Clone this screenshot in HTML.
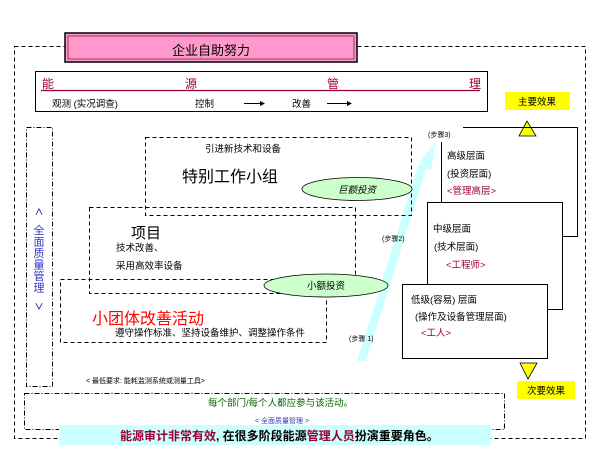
<!DOCTYPE html>
<html><head><meta charset="utf-8"><style>
html,body{margin:0;padding:0;background:#fff;}
svg{display:block;font-family:"Liberation Sans","Noto Sans CJK SC",sans-serif;}
</style></head><body>
<svg width="600" height="450" viewBox="0 0 600 450" xmlns="http://www.w3.org/2000/svg">
<rect x="14.5" y="46.5" width="571" height="392" fill="none" stroke="#000" stroke-dasharray="4,3"/>
<rect x="65" y="33" width="292" height="29" fill="#ff99cc" stroke="#000" stroke-width="1.5"/>
<rect x="68" y="36" width="286" height="23" fill="none" stroke="#993366" stroke-width="1"/>
<text x="211" y="55" font-size="13" text-anchor="middle">企业自助努力</text>
<rect x="35.5" y="71.5" width="452" height="40" fill="#fff" stroke="#000"/>
<line x1="41" y1="90.5" x2="480" y2="90.5" stroke="#990033" stroke-width="1.2"/>
<g fill="#990033" font-size="12"><text x="42" y="88">能</text><text x="185" y="88">源</text><text x="327" y="88">管</text><text x="469" y="88">理</text></g>
<g font-size="9.5"><text x="52" y="107">观测 (实况调查)</text><text x="195" y="107">控制</text><text x="292" y="107">改善</text></g>
<line x1="244" y1="103.5" x2="260" y2="103.5" stroke="#000"/><polygon points="260,101 265,103.5 260,106"/>
<line x1="327" y1="103.5" x2="347" y2="103.5" stroke="#000"/><polygon points="347,101 352,103.5 347,106"/>
<rect x="505" y="92" width="65" height="18" fill="#ffff00"/>
<text x="537" y="105" font-size="9.5" text-anchor="middle">主要效果</text>
<polygon points="527,121 519,136 536,136" fill="#ffff00" stroke="#000" stroke-width="0.8"/>
<rect x="517" y="381" width="58" height="18" fill="#ffff00"/>
<text x="546" y="394" font-size="9.5" text-anchor="middle">次要效果</text>
<polygon points="520,363 537,363 528,379" fill="#ffff00" stroke="#000" stroke-width="0.8"/>
<rect x="26.5" y="127.5" width="26" height="259" fill="none" stroke="#000" stroke-dasharray="5,2,1,2"/>
<g fill="#3333cc" font-size="11" text-anchor="middle">
<text x="39" y="215" font-size="9" font-weight="bold">∧</text>
<text x="39" y="234">全</text><text x="39" y="245.5">面</text><text x="39" y="257">质</text><text x="39" y="268.5">量</text><text x="39" y="280">管</text><text x="39" y="291.5">理</text>
<text x="39" y="310" font-size="9" font-weight="bold">∨</text>
</g>
<rect x="24.5" y="393.5" width="480" height="36" fill="none" stroke="#000" stroke-dasharray="5,2,1,2"/>
<text x="208" y="406" font-size="9.5" fill="#006600">每个部门/每个人都应参与该活动。</text>
<text x="255" y="423" font-size="7" fill="#3333cc">&lt; 全面质量管理 &gt;</text>
<rect x="59" y="425" width="432" height="20" fill="#ccffff"/>
<text x="120" y="440" font-size="12" font-weight="bold"><tspan fill="#990033">能源审计非常有效</tspan>, 在很多阶段能源<tspan fill="#990033">管理人员</tspan>扮演重要角色。</text>
<polyline points="463,127.5 577.5,127.5 577.5,236.5 563,236.5" fill="none" stroke="#000"/>
<line x1="441.5" y1="142" x2="441.5" y2="202" stroke="#000"/>
<rect x="427.5" y="202.5" width="135" height="107" fill="#fff" stroke="#000"/>
<rect x="402.5" y="284.5" width="145" height="74" fill="#fff" stroke="#000"/>
<g font-size="9.5">
<text x="447" y="159">高级层面</text><text x="447" y="177">(投资层面)</text>
<text x="447" y="194" fill="#990033">&lt;管理高层&gt;</text>
<text x="433" y="232">中级层面</text><text x="434" y="250">(技术层面)</text>
<text x="446" y="268" fill="#990033">&lt;工程师&gt;</text>
<text x="411" y="303">低级(容易) 层面</text><text x="415" y="320">(操作及设备管理层面)</text>
<text x="421" y="336" fill="#990033">&lt;工人&gt;</text>
</g>
<polygon points="358,361 366,361 425,168 431,170 436,142 419,162 425,164 366,359" fill="#ccffff"/>
<polygon points="357,361 366,361 427,166 419,163" fill="#ccffff"/>
<g font-size="7"><text x="428" y="137">(步骤3)</text><text x="382" y="241">(步骤2)</text><text x="349" y="341">(步骤 1)</text></g>
<rect x="145.5" y="137.5" width="266" height="78" fill="none" stroke="#000" stroke-dasharray="4,3"/>
<text x="205" y="152" font-size="9.5">引进新技术和设备</text>
<text x="182" y="182" font-size="16">特别工作小组</text>
<ellipse cx="357" cy="189" rx="55" ry="11.5" fill="#ccffcc" stroke="#000" stroke-width="0.8"/>
<text x="357" y="193" font-size="9.5" font-style="italic" text-anchor="middle">巨额投资</text>
<rect x="89.5" y="207.5" width="266" height="86" fill="none" stroke="#000" stroke-dasharray="4,3"/>
<text x="131" y="238" font-size="15">项目</text>
<text x="116" y="251" font-size="9.5">技术改善、</text>
<text x="116" y="269" font-size="9.5">采用高效率设备</text>
<rect x="60.5" y="279.5" width="266" height="63" fill="none" stroke="#000" stroke-dasharray="4,3"/>
<ellipse cx="326" cy="285.5" rx="62" ry="11.5" fill="#ccffcc" stroke="#000" stroke-width="0.8"/>
<text x="326" y="289" font-size="9.5" text-anchor="middle">小额投资</text>
<text x="92" y="324" font-size="16" fill="#ff0000">小团体改善活动</text>
<text x="115" y="336" font-size="9.5">遵守操作标准、坚持设备维护、调整操作条件</text>
<text x="86" y="383" font-size="7">&lt; 最低要求: 能耗监测系统或测量工具&gt;</text>
</svg>
</body></html>
